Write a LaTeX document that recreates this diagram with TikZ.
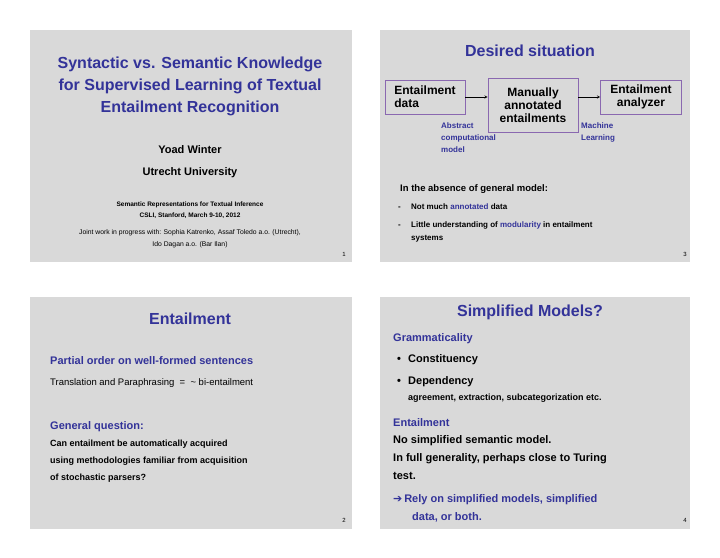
\documentclass[tikz,border=0pt]{standalone}
\usepackage{fontspec}
\setmainfont{Liberation Sans}
\newfontfamily\symfont{DejaVu Sans}
\usetikzlibrary{positioning}
\definecolor{slidegray}{HTML}{D9D9D9}
\definecolor{titleblue}{HTML}{333399}
\definecolor{boxpurple}{HTML}{8A68B0}
\tikzset{
    slide/.style={
      fill=slidegray, draw=none,
           },
}
\tikzset{
    slidetitle/.style={
      font=\fontsize{16}{18}\selectfont\bfseries,
           text=titleblue,
           anchor=base,
           inner sep=0pt,
           },
}
\tikzset{
    body/.style={
      font=\fontsize{11}{13}\selectfont\bfseries,
           anchor=base west,
           inner sep=0pt,
           },
}
\tikzset{
    small/.style={
      font=\fontsize{8}{10}\selectfont,
           anchor=base,
           inner sep=0pt,
           },
}
\tikzset{
    stagebox/.style={
      draw=boxpurple, thick,
           font=\fontsize{12}{13}\selectfont\bfseries,
           inner sep=2pt,
           align=center,
           },
}
\tikzset{
    pagenum/.style={
      font=\fontsize{6}{7}\selectfont,
           anchor=base east,
           inner sep=0pt,
           },
}
\begin{document}
\begin{tikzpicture}[x=1pt,y=-1pt]
\useasboundingbox (0,0) rectangle (720,557);
\fill[white] (0,0) rectangle (720,557);

\fill[slide] (30,30) rectangle (352,262);
\fill[slide] (380,30) rectangle (690,262);
\fill[slide] (30,297) rectangle (352,529);
\fill[slide] (380,297) rectangle (690,529);

% slide 1
\node[slidetitle](t1a) at (190,68){Syntactic vs. Semantic Knowledge};
\node[slidetitle](t1b) at (190,90){for Supervised Learning of Textual};
\node[slidetitle](t1c) at (190,112){Entailment Recognition};
\node[body,anchor=base](auth) at (190,153){Yoad Winter};
\node[body,anchor=base](univ) at (190,175){Utrecht University};
\node[small,font=\fontsize{6.5}{8}\selectfont\bfseries](conf) at (190,206){Semantic Representations for Textual Inference};
\node[small,font=\fontsize{6.5}{8}\selectfont\bfseries](date) at (190,217){CSLI, Stanford, March 9-10, 2012};
\node[small,font=\fontsize{6.8}{8}\selectfont](joint) at (190,234){Joint work in progress with: Sophia Katrenko, Assaf Toledo a.o. (Utrecht),};
\node[small,font=\fontsize{6.8}{8}\selectfont](joint2) at (190,246){Ido Dagan a.o. (Bar Ilan)};
\node[pagenum](p1) at (346,256){1};

% slide 3
\node[slidetitle](t3) at (530,56){Desired situation};
\node[stagebox,minimum width=80pt,minimum height=34pt,align=left](ed) at (425,97){Entailment\\data};
\node[stagebox,minimum width=90pt,minimum height=54pt](man) at (533,105){Manually\\annotated\\entailments};
\node[stagebox,minimum width=81pt,minimum height=34pt](ana) at (641,97){Entailment\\analyzer};
\draw[->,>=stealth] (ed) -- (man.west |- ed);
\draw[->,>=stealth] (man.east |- ana) -- (ana);
\node[body,font=\fontsize{8}{12}\selectfont\bfseries,text=titleblue,align=left,anchor=north west](acm) at (441,123){Abstract\\computational\\model};
\node[body,font=\fontsize{8}{12}\selectfont\bfseries,text=titleblue,align=left,anchor=north west](ml) at (581,123){Machine\\Learning};
\node[body,font=\fontsize{9.5}{11}\selectfont\bfseries](abs) at (400,191){In the absence of general model:};
\node[body,font=\fontsize{8}{10}\selectfont\bfseries](d1) at (398,209){-};
\node[body,font=\fontsize{8}{10}\selectfont\bfseries](b1) at (411,209){Not much \textcolor{titleblue}{annotated} data};
\node[body,font=\fontsize{8}{10}\selectfont\bfseries](d2) at (398,227){-};
\node[body,font=\fontsize{8}{10}\selectfont\bfseries](b2) at (411,227){Little understanding of \textcolor{titleblue}{modularity} in entailment};
\node[body,font=\fontsize{8}{10}\selectfont\bfseries](b2b) at (411,240){systems};
\node[pagenum](p3) at (687,256){3};

% slide 2
\node[slidetitle](t2) at (190,324){Entailment};
\node[body,text=titleblue](po) at (50,364){Partial order on well-formed sentences};
\node[body,font=\fontsize{9.5}{11}\selectfont](tp) at (50,385){Translation and Paraphrasing \ = \ \textasciitilde\ bi-entailment};
\node[body,text=titleblue](gq) at (50,429){General question:};
\node[body,font=\fontsize{9}{11}\selectfont\bfseries](q1) at (50,446){Can entailment be automatically acquired};
\node[body,font=\fontsize{9}{11}\selectfont\bfseries](q2) at (50,463){using methodologies familiar from acquisition};
\node[body,font=\fontsize{9}{11}\selectfont\bfseries](q3) at (50,480){of stochastic parsers?};
\node[pagenum](p2) at (346,522){2};

% slide 4
\node[slidetitle](t4) at (530,316){Simplified Models?};
\node[body,text=titleblue](gr) at (393,341){Grammaticality};
\node[body](bu1) at (397,362){•};
\node[body](g1) at (408,362){Constituency};
\node[body](bu2) at (397,384){•};
\node[body](g2) at (408,384){Dependency};
\node[body,font=\fontsize{9}{11}\selectfont\bfseries](g3) at (408,400){agreement, extraction, subcategorization etc.};
\node[body,text=titleblue](en) at (393,426){Entailment};
\node[body](e1) at (393,443){No simplified semantic model.};
\node[body](e2) at (393,461){In full generality, perhaps close to Turing};
\node[body](e3) at (393,479){test.};
\node[body,text=titleblue](r1) at (393,502){{\symfont ➔}\,Rely on simplified models, simplified};
\node[body,text=titleblue](r2) at (412,520){data, or both.};
\node[pagenum](p4) at (687,522){4};
\end{tikzpicture}
\end{document}
